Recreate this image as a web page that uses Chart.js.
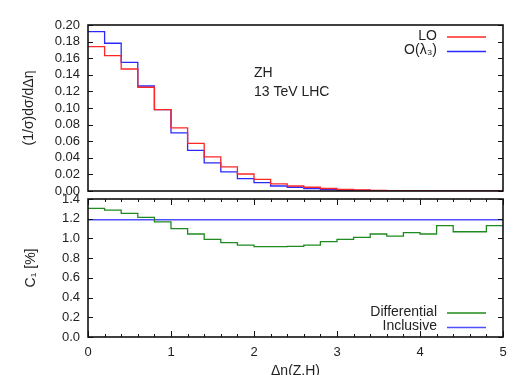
<!DOCTYPE html>
<html>
<head>
<meta charset="utf-8">
<script src="https://cdn.jsdelivr.net/npm/chart.js@4/dist/chart.umd.min.js"></script>
<style>
  html, body { margin: 0; padding: 0; background: #fff; overflow: hidden; width: 525px; height: 375px; }
  canvas { position: absolute; left: 0; }
  #top { top: 0; }
  #bottom { top: 192px; }
</style>
</head>
<body>
<canvas id="top" width="525" height="200"></canvas>
<canvas id="bottom" width="525" height="200"></canvas>
<script>
// bin edges of the delta eta histogram
const binEdges = [0, 0.2, 0.4, 0.6, 0.8, 1.0, 1.2, 1.4, 1.6, 1.8, 2.0, 2.2, 2.4,
                  2.6, 2.8, 3.0, 3.2, 3.4, 3.6, 3.8, 4.0, 4.2, 4.4, 4.6, 4.8, 5.0];

// normalised distribution, one value per bin
const loValues = [0.174, 0.163, 0.147, 0.125, 0.098, 0.076, 0.0575, 0.041, 0.029, 0.0205,
                  0.014, 0.0085, 0.006, 0.0045, 0.003, 0.0018, 0.0012, 0.0008, 0.0005, 0.0003,
                  0.0002, 0.0001, 0.0001, 0.0001, 0.0];
const lambda3Values = [0.192, 0.178, 0.155, 0.1265, 0.098, 0.070, 0.049, 0.034, 0.023, 0.015,
                       0.010, 0.006, 0.0045, 0.003, 0.0016, 0.0009, 0.0006, 0.0004, 0.0003, 0.0002,
                       0.0001, 0.0001, 0.0, 0.0, 0.0];

// C1 in percent
const differentialC1 = [1.305, 1.288, 1.255, 1.214, 1.168, 1.10, 1.045, 0.99, 0.957, 0.933,
                        0.916, 0.916, 0.92, 0.933, 0.967, 0.99, 1.01, 1.045, 1.024, 1.058,
                        1.045, 1.129, 1.068, 1.068, 1.129];
const inclusiveC1 = 1.19;

const FONT = '"Liberation Sans", Arial, sans-serif';

// histogram -> points at left bin edges, plus closing point at the last edge
function histPoints(values) {
    const pts = values.map((v, i) => ({ x: binEdges[i], y: v }));
    pts.push({ x: binEdges[binEdges.length - 1], y: values[values.length - 1] });
    return pts;
}

// fixed axis width, and no extra padding for the end labels
function fixYAxis(s) {
    s.width = 88;
    s.paddingTop = 0;
    s.paddingBottom = 0;
}

// gnuplot look: frame, inward ticks, key and labels
const gnuplotFrame = {
    id: 'gnuplotFrame',
    afterDraw(chart, args, opts) {
        const { ctx, chartArea: a } = chart;
        const x = chart.scales.x, y = chart.scales.y;
        ctx.save();
        ctx.strokeStyle = '#111';
        ctx.lineWidth = 1;
        ctx.beginPath();
        y.ticks.forEach(t => {
            const py = Math.round(y.getPixelForValue(t.value)) + 0.5;
            ctx.moveTo(a.left, py); ctx.lineTo(a.left + 5, py);
            ctx.moveTo(a.right, py); ctx.lineTo(a.right - 5, py);
        });
        if (opts.xMinor) {
            const n = Math.round((x.max - x.min) / opts.xMinor);
            for (let i = 0; i <= n; i++) {
                const v = x.min + i * opts.xMinor;
                const px = Math.round(x.getPixelForValue(v)) + 0.5;
                const len = Math.abs(v - Math.round(v)) < 1e-6 ? 6 : 3;
                ctx.moveTo(px, a.bottom); ctx.lineTo(px, a.bottom - len);
                ctx.moveTo(px, a.top); ctx.lineTo(px, a.top + len);
            }
        }
        ctx.stroke();
        ctx.lineWidth = 1.6;
        ctx.strokeRect(a.left, a.top, a.right - a.left, a.bottom - a.top);

        ctx.font = '14px ' + FONT;
        ctx.fillStyle = '#222';
        ctx.textBaseline = 'middle';
        // key
        ctx.textAlign = 'right';
        chart.data.datasets.forEach((ds, i) => {
            const ky = opts.keyY + i * 14.5;
            ctx.fillText(ds.label, opts.keyX, ky);
            ctx.strokeStyle = ds.borderColor;
            ctx.lineWidth = 1.3;
            ctx.beginPath();
            ctx.moveTo(opts.keyX + 10, ky + 1);
            ctx.lineTo(opts.keyX + 49, ky + 1);
            ctx.stroke();
        });
        // free labels
        ctx.textAlign = 'left';
        (opts.notes || []).forEach(n => ctx.fillText(n.text, n.x, n.y));
        ctx.restore();
    }
};

const topChart = new Chart(document.getElementById('top'), {
    type: 'line',
    data: {
        datasets: [{
            label: 'LO',
            data: histPoints(loValues),
            borderColor: '#ff2626',
            borderWidth: 1.3,
            stepped: true,
            pointRadius: 0,
            fill: false,
        }, {
            label: 'O(λ₃)',
            data: histPoints(lambda3Values),
            borderColor: '#2a2aff',
            borderWidth: 1.3,
            stepped: true,
            pointRadius: 0,
            fill: false,
        }],
    },
    options: {
        responsive: false,
        animation: false,
        layout: { padding: { left: 0, right: 22, top: 25, bottom: 9 } },
        plugins: {
            legend: { display: false },
            tooltip: { enabled: false },
            gnuplotFrame: {
                keyX: 437, keyY: 36,
                notes: [{ text: 'ZH', x: 254, y: 73 }, { text: '13 TeV LHC', x: 254, y: 92 }],
            },
        },
        scales: {
            x: { type: 'linear', min: 0, max: 5, display: false },
            y: {
                min: 0, max: 0.2,
                ticks: {
                    stepSize: 0.02,
                    autoSkip: false,
                    padding: 8,
                    color: '#222',
                    font: { family: FONT, size: 13 },
                    callback: v => v.toFixed(2),
                },
                grid: { display: false, drawTicks: false },
                border: { display: false },
                title: {
                    display: true,
                    text: '(1/σ)dσ/dΔη',
                    color: '#222',
                    font: { family: FONT, size: 14 },
                    padding: { top: 21 },
                },
                afterFit: fixYAxis,
            },
        },
    },
    plugins: [gnuplotFrame],
});

const bottomChart = new Chart(document.getElementById('bottom'), {
    type: 'line',
    data: {
        datasets: [{
            label: 'Differential',
            data: histPoints(differentialC1),
            borderColor: '#1f8a1f',
            borderWidth: 1.3,
            stepped: true,
            pointRadius: 0,
            fill: false,
        }, {
            label: 'Inclusive',
            data: [{ x: binEdges[0], y: inclusiveC1 }, { x: binEdges[binEdges.length - 1], y: inclusiveC1 }],
            borderColor: '#4f4fff',
            borderWidth: 1.4,
            pointRadius: 0,
            fill: false,
        }],
    },
    options: {
        responsive: false,
        animation: false,
        layout: { padding: { left: 0, right: 22, top: 7, bottom: 0 } },
        plugins: {
            legend: { display: false },
            tooltip: { enabled: false },
            gnuplotFrame: { keyX: 437, keyY: 120, xMinor: 0.2 },
        },
        scales: {
            x: {
                type: 'linear', min: 0, max: 5,
                ticks: {
                    stepSize: 1,
                    autoSkip: false,
                    padding: 8,
                    color: '#222',
                    font: { family: FONT, size: 13 },
                },
                grid: { display: false, drawTicks: false },
                border: { display: false },
                title: {
                    display: true,
                    text: 'Δη(Z,H)',
                    color: '#222',
                    font: { family: FONT, size: 14 },
                    padding: { bottom: 12 },
                },
                afterFit: s => { s.height = 55; },
            },
            y: {
                min: 0, max: 1.4,
                ticks: {
                    stepSize: 0.2,
                    autoSkip: false,
                    padding: 8,
                    color: '#222',
                    font: { family: FONT, size: 13 },
                    callback: v => v.toFixed(1),
                },
                grid: { display: false, drawTicks: false },
                border: { display: false },
                title: {
                    display: true,
                    text: 'C₁ [%]',
                    color: '#222',
                    font: { family: FONT, size: 14 },
                    padding: { top: 23 },
                },
                afterFit: fixYAxis,
            },
        },
    },
    plugins: [gnuplotFrame],
});
</script>
</body>
</html>
